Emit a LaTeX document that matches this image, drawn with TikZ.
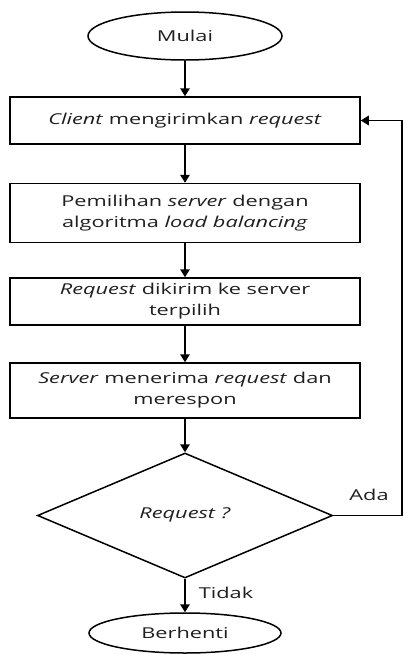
\documentclass[tikz,border=0pt]{standalone}
\usepackage{fontspec}
\setmainfont{Open Sans}[FakeStretch=1.45]
\usetikzlibrary{shapes.geometric,arrows.meta}
\begin{document}
\begin{tikzpicture}[x=1pt,y=-1pt,
  line width=1.5pt,
  every node/.style={font=\fontsize{15}{21}\selectfont, text=black!88},
  term/.style={draw, ellipse, inner sep=0pt},
  proc/.style={draw, rectangle, minimum width=350, align=center, inner sep=0pt},
  dec/.style={draw, diamond, inner sep=0pt, minimum width=295, minimum height=125},
  arr/.style={-{Triangle[length=8pt,width=9.5pt]}},
  lbl/.style={inner sep=0pt}]
\useasboundingbox (0,0) rectangle (403,654);
\node[term, minimum width=194, minimum height=48] (start) at (185,36) {Mulai};
\node[proc, minimum height=47] (b1) at (185,120.5) {\textit{Client} mengirimkan \textit{request}};
\node[proc, minimum height=59] (b2) at (185,213) {Pemilihan \textit{server} dengan\\algoritma \textit{load balancing}};
\node[proc, minimum height=47] (b3) at (185,301.5) {\textit{Request} dikirim ke server\\terpilih};
\node[proc, minimum height=55] (b4) at (185,390.5) {\textit{Server} menerima \textit{request} dan\\merespon};
\node[dec] (d) at (185,515.5) {\raisebox{4pt}{\textit{Request ?}}};
\node[term, minimum width=192, minimum height=40] (stop) at (185,633) {Berhenti};
\coordinate (c) at (402,515.5);
\draw[arr] (start) -- (b1);
\draw[arr] (b1) -- (b2);
\draw[arr] (b2) -- (b3);
\draw[arr] (b3) -- (b4);
\draw[arr] (b4) -- (d);
\draw[arr] (d) -- (stop);
\draw[arr] (d.east) -- (c) |- (b1.east);
\node[lbl] (ada) at (369,495) {Ada};
\node[lbl] (tidak) at (226,593) {Tidak};
\end{tikzpicture}
\end{document}
